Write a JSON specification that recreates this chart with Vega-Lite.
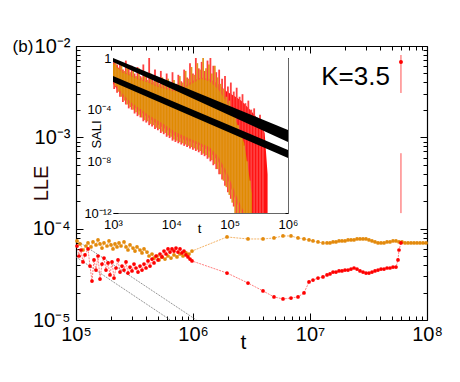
{
"$schema": "https://vega.github.io/schema/vega-lite/v6.json",
"width": 351, "height": 274,
"autosize": "none",
"padding": {"left": 76, "top": 46, "right": 33, "bottom": 62},
"background": "white",
"config": {"view": {"stroke": null}, "font": "Liberation Sans",
  "axis": {"grid": false, "labelFont": "Liberation Sans", "titleFont": "Liberation Sans", "labelOverlap": false, "labelFlush": false, "labelBound": false, "labelColor": "#000", "titleColor": "#000", "domainColor": "#000", "tickColor": "#000", "titleFontWeight": "normal"}},
"datasets": {
  "box": [{"t": 1e6, "v": 1e-4}],
  "guides": [{"g": "a", "t": 1e5, "v": 7.52e-5}, {"g": "a", "t": 1.07e6, "v": 1e-5}, {"g": "b", "t": 1e5, "v": 4.9e-5}, {"g": "b", "t": 6.4e5, "v": 1e-5}],
  "orange": [
    {"t":1.02e5,"v":7.33e-5},{"t":1.082e5,"v":6.80e-5},{"t":1.148e5,"v":5.84e-5},{"t":1.218e5,"v":6.46e-5},{"t":1.266e5,"v":6.97e-5},{"t":1.344e5,"v":6.30e-5},{"t":1.397e5,"v":7.15e-5},{"t":1.482e5,"v":6.63e-5},{"t":1.542e5,"v":7.52e-5},{"t":1.604e5,"v":6.80e-5},{"t":1.668e5,"v":6.14e-5},{"t":1.735e5,"v":6.97e-5},{"t":1.841e5,"v":6.46e-5},{"t":1.915e5,"v":7.33e-5},{"t":1.991e5,"v":6.63e-5},{"t":2.071e5,"v":5.99e-5},{"t":2.154e5,"v":6.80e-5},{"t":2.241e5,"v":6.30e-5},{"t":2.331e5,"v":6.97e-5},{"t":2.424e5,"v":6.46e-5},{"t":2.572e5,"v":7.15e-5},{"t":2.675e5,"v":6.30e-5},{"t":2.782e5,"v":5.84e-5},{"t":2.894e5,"v":6.63e-5},{"t":3.070e5,"v":6.14e-5},{"t":3.193e5,"v":5.69e-5},{"t":3.321e5,"v":6.30e-5},{"t":3.524e5,"v":5.84e-5},{"t":3.665e5,"v":5.42e-5},{"t":3.812e5,"v":5.99e-5},{"t":4.044e5,"v":5.55e-5},{"t":4.206e5,"v":5.02e-5},{"t":4.463e5,"v":5.28e-5},{"t":4.642e5,"v":4.77e-5},{"t":4.924e5,"v":5.02e-5},{"t":5.121e5,"v":4.54e-5},{"t":5.433e5,"v":4.90e-5},{"t":5.763e5,"v":4.65e-5},{"t":6.113e5,"v":5.02e-5},{"t":6.486e5,"v":4.77e-5},{"t":6.879e5,"v":5.15e-5},{"t":7.297e5,"v":4.90e-5},{"t":7.741e5,"v":5.28e-5},{"t":8.211e5,"v":5.02e-5},{"t":8.710e5,"v":5.42e-5},{"t":9.245e5,"v":5.28e-5},{"t":9.806e5,"v":5.69e-5},
    {"t":1.953e6,"v":8.11e-5},{"t":2.952e6,"v":7.71e-5},{"t":3.966e6,"v":7.71e-5},{"t":4.924e6,"v":7.91e-5},{"t":5.877e6,"v":8.32e-5},{"t":6.879e6,"v":8.32e-5},{"t":7.897e6,"v":7.91e-5},{"t":8.886e6,"v":7.71e-5},{"t":9.806e6,"v":7.52e-5},{"t":1.061e7,"v":7.33e-5},{"t":1.171e7,"v":7.15e-5},{"t":1.291e7,"v":6.97e-5},{"t":1.397e7,"v":6.97e-5},{"t":1.482e7,"v":6.97e-5},
    {"t":1.573e7,"v":7.15e-5},{"t":1.668e7,"v":7.15e-5},{"t":1.770e7,"v":7.33e-5},{"t":1.877e7,"v":7.33e-5},{"t":1.991e7,"v":7.33e-5},{"t":2.113e7,"v":7.52e-5},{"t":2.241e7,"v":7.52e-5},{"t":2.378e7,"v":7.52e-5},{"t":2.522e7,"v":7.71e-5},{"t":2.675e7,"v":7.71e-5},{"t":2.838e7,"v":7.71e-5},{"t":3.010e7,"v":7.71e-5},{"t":3.193e7,"v":7.52e-5},{"t":3.388e7,"v":7.33e-5},{"t":3.594e7,"v":7.15e-5},{"t":3.812e7,"v":6.97e-5},{"t":4.044e7,"v":6.97e-5},{"t":4.291e7,"v":6.97e-5},{"t":4.552e7,"v":7.15e-5},{"t":4.828e7,"v":7.15e-5},{"t":5.121e7,"v":7.33e-5},{"t":5.433e7,"v":7.33e-5},{"t":5.763e7,"v":7.15e-5},{"t":6.113e7,"v":7.15e-5},{"t":6.486e7,"v":6.97e-5},{"t":6.879e7,"v":6.97e-5},{"t":7.297e7,"v":6.97e-5},{"t":7.741e7,"v":6.97e-5},{"t":8.211e7,"v":6.97e-5},{"t":8.710e7,"v":6.97e-5},{"t":9.245e7,"v":6.97e-5},{"t":9.806e7,"v":6.97e-5}
  ],
  "red": [
    {"t":1.02e5,"v":6.46e-5},{"t":1.061e5,"v":5.02e-5},{"t":1.103e5,"v":5.84e-5},{"t":1.148e5,"v":4.32e-5},{"t":1.194e5,"v":5.15e-5},{"t":1.266e5,"v":5.99e-5},{"t":1.317e5,"v":3.90e-5},{"t":1.370e5,"v":2.67e-5},{"t":1.425e5,"v":4.54e-5},{"t":1.482e5,"v":3.52e-5},{"t":1.542e5,"v":5.02e-5},{"t":1.604e5,"v":2.81e-5},{"t":1.668e5,"v":4.10e-5},{"t":1.735e5,"v":4.77e-5},{"t":1.804e5,"v":3.52e-5},{"t":1.877e5,"v":4.21e-5},{"t":1.953e5,"v":3.11e-5},{"t":2.031e5,"v":4.32e-5},{"t":2.113e5,"v":2.88e-5},{"t":2.198e5,"v":3.71e-5},{"t":2.286e5,"v":4.54e-5},{"t":2.378e5,"v":3.35e-5},{"t":2.473e5,"v":3.90e-5},{"t":2.572e5,"v":3.52e-5},{"t":2.675e5,"v":4.32e-5},{"t":2.782e5,"v":3.27e-5},{"t":2.894e5,"v":3.80e-5},{"t":3.010e5,"v":3.44e-5},{"t":3.131e5,"v":4.10e-5},{"t":3.256e5,"v":3.71e-5},{"t":3.388e5,"v":3.35e-5},{"t":3.524e5,"v":3.90e-5},{"t":3.665e5,"v":3.52e-5},{"t":3.812e5,"v":4.10e-5},{"t":3.965e5,"v":3.71e-5},{"t":4.125e5,"v":4.43e-5},{"t":4.291e5,"v":3.90e-5},{"t":4.463e5,"v":4.65e-5},{"t":4.642e5,"v":4.21e-5},{"t":4.828e5,"v":5.02e-5},{"t":5.022e5,"v":4.54e-5},{"t":5.223e5,"v":5.28e-5},{"t":5.433e5,"v":4.90e-5},{"t":5.650e5,"v":5.69e-5},{"t":5.877e5,"v":5.28e-5},{"t":6.113e5,"v":5.99e-5},{"t":6.358e5,"v":5.55e-5},{"t":6.614e5,"v":5.99e-5},{"t":6.879e5,"v":5.69e-5},{"t":7.155e5,"v":6.14e-5},{"t":7.442e5,"v":5.55e-5},{"t":7.741e5,"v":5.99e-5},{"t":8.051e5,"v":5.42e-5},{"t":8.374e5,"v":5.69e-5},{"t":8.710e5,"v":5.15e-5},{"t":9.059e5,"v":4.90e-5},{"t":9.427e5,"v":4.65e-5},{"t":9.806e5,"v":4.43e-5},
    {"t":1.953e6,"v":3.27e-5},{"t":2.952e6,"v":2.54e-5},{"t":3.966e6,"v":2.08e-5},{"t":4.924e6,"v":1.79e-5},{"t":5.877e6,"v":1.70e-5},{"t":6.879e6,"v":1.74e-5},{"t":7.897e6,"v":1.79e-5},{"t":8.886e6,"v":1.98e-5},{"t":9.806e6,"v":2.61e-5},{"t":1.061e7,"v":2.74e-5},{"t":1.171e7,"v":2.88e-5},{"t":1.291e7,"v":2.96e-5},{"t":1.397e7,"v":3.11e-5},{"t":1.482e7,"v":3.19e-5},{"t":1.573e7,"v":3.35e-5},{"t":1.668e7,"v":3.35e-5},{"t":1.770e7,"v":3.44e-5},{"t":1.877e7,"v":3.44e-5},{"t":1.991e7,"v":3.52e-5},{"t":2.113e7,"v":3.52e-5},{"t":2.241e7,"v":3.61e-5},{"t":2.378e7,"v":3.71e-5},{"t":2.522e7,"v":3.61e-5},{"t":2.675e7,"v":3.44e-5},{"t":2.838e7,"v":3.35e-5},{"t":3.010e7,"v":3.27e-5},{"t":3.193e7,"v":3.27e-5},{"t":3.388e7,"v":3.35e-5},{"t":3.594e7,"v":3.44e-5},{"t":3.812e7,"v":3.52e-5},{"t":4.044e7,"v":3.61e-5},{"t":4.291e7,"v":3.61e-5},{"t":4.552e7,"v":3.71e-5},{"t":4.828e7,"v":3.71e-5},{"t":5.121e7,"v":3.80e-5},{"t":5.433e7,"v":3.80e-5},{"t":5.650e7,"v":4.54e-5},{"t":5.763e7,"v":5.84e-5},{"t":5.994e7,"v":6.97e-5}
  ],
  "redRules": [{"t": 5.99e7, "v": 3.06e-3, "v2": 7.97e-3}, {"t": 5.99e7, "v": 1.48e-4, "v2": 6.7e-4}],
  "redDot": [{"t": 5.99e7, "v": 6.7e-3}],
  "kText": [{"t": 2.45e7, "v": 4.52e-3, "label": "K=3.5"}],
  "bText": [{"t": 3.52e4, "v": 9.63e-3, "label": "(b)"}],
  "insetBox": [{"t": 1e3, "t2": 1e6, "s": 1e-12, "s2": 1}],
  "bands": [{"g": "u", "t": 1e3, "s": 0.49, "s2": 1}, {"g": "u", "t": 1e6, "s": 3.16e-7, "s2": 2.69e-6}, {"g": "l", "t": 1e3, "s": 0.0138, "s2": 0.0407}, {"g": "l", "t": 1e6, "s": 1.82e-8, "s2": 7.59e-8}],
  "redArea": [
    {"t":1000,"s":0.01,"s2":0.501},{"t":1413,"s":1.26e-3,"s2":0.1},{"t":1995,"s":2.51e-4,"s2":0.0501},{"t":2818,"s":7.94e-5,"s2":0.0251},{"t":3981,"s":2.51e-5,"s2":0.0158},{"t":5623,"s":7.94e-6,"s2":7.94e-3},{"t":7943,"s":3.16e-6,"s2":5.01e-3},{"t":11220,"s":1e-6,"s2":3.16e-3},{"t":15849,"s":5.01e-7,"s2":5.01e-3},{"t":22387,"s":3.16e-7,"s2":0.0158},{"t":31623,"s":1.58e-7,"s2":0.0316},{"t":44668,"s":6.31e-8,"s2":0.0251},{"t":63096,"s":1e-8,"s2":0.01},{"t":89125,"s":6.31e-10,"s2":2.51e-3},{"t":125893,"s":1e-11,"s2":1e-3},{"t":158489,"s":1e-12,"s2":5.01e-4},{"t":223872,"s":1e-12,"s2":1e-4},{"t":316228,"s":1e-12,"s2":1.58e-5},{"t":398107,"s":1e-12,"s2":1.58e-6},{"t":446684,"s":1e-12,"s2":1e-9}
  ],
  "orangeArea": [
    {"t":1000,"s":0.02,"s2":0.398},{"t":1413,"s":2e-3,"s2":0.0794},{"t":1995,"s":3.98e-4,"s2":0.0398},{"t":2818,"s":1.26e-4,"s2":0.02},{"t":3981,"s":3.98e-5,"s2":0.0126},{"t":5623,"s":1.58e-5,"s2":6.31e-3},{"t":7943,"s":6.31e-6,"s2":3.98e-3},{"t":11220,"s":2e-6,"s2":2.51e-3},{"t":15849,"s":1e-6,"s2":3.98e-3},{"t":22387,"s":5.01e-7,"s2":0.01},{"t":31623,"s":2.51e-7,"s2":0.0251},{"t":44668,"s":1.26e-7,"s2":0.0158},{"t":63096,"s":2.51e-8,"s2":3.98e-3},{"t":89125,"s":1.58e-9,"s2":3.98e-4},{"t":125893,"s":3.16e-11,"s2":1.58e-5},{"t":177828,"s":1e-12,"s2":2.51e-7},{"t":239883,"s":1e-12,"s2":3.16e-11}
  ],
  "redSpikes": [
    {"t":1047,"s":3.98e-3,"s2":0.794},{"t":1175,"s":2e-3,"s2":0.316},{"t":1318,"s":1e-3,"s2":0.501},{"t":1479,"s":3.98e-4,"s2":0.126},{"t":1660,"s":2.51e-4,"s2":0.631},{"t":1862,"s":1.26e-4,"s2":0.158},{"t":2089,"s":1e-4,"s2":0.251},{"t":2344,"s":5.01e-5,"s2":0.0631},{"t":2630,"s":3.16e-5,"s2":0.2},{"t":2951,"s":2.51e-5,"s2":0.0398},{"t":3311,"s":1.26e-5,"s2":0.316},{"t":3715,"s":1e-5,"s2":0.0501},{"t":4169,"s":6.31e-6,"s2":1},{"t":4677,"s":5.01e-6,"s2":0.0316},{"t":5248,"s":3.16e-6,"s2":0.126},{"t":5888,"s":2.51e-6,"s2":0.02},{"t":6607,"s":1.58e-6,"s2":0.1},{"t":7413,"s":1.26e-6,"s2":0.0126},{"t":8318,"s":7.94e-7,"s2":0.0631},{"t":9333,"s":6.31e-7,"s2":0.01},{"t":10471,"s":3.98e-7,"s2":0.0794},{"t":11749,"s":3.16e-7,"s2":6.31e-3},{"t":13183,"s":2.51e-7,"s2":0.0501},{"t":14791,"s":2e-7,"s2":0.0158},{"t":16596,"s":1.58e-7,"s2":0.126},{"t":18621,"s":1.26e-7,"s2":0.0316},{"t":20893,"s":1e-7,"s2":0.398},{"t":23442,"s":7.94e-8,"s2":0.0631},{"t":26303,"s":6.31e-8,"s2":1},{"t":29512,"s":5.01e-8,"s2":0.158},{"t":33113,"s":3.16e-8,"s2":0.501},{"t":37154,"s":2.51e-8,"s2":0.1},{"t":41687,"s":1.58e-8,"s2":0.631},{"t":46774,"s":1e-8,"s2":1},{"t":52481,"s":5.01e-9,"s2":0.251},{"t":58884,"s":2.51e-9,"s2":0.0794},{"t":66069,"s":1e-9,"s2":0.126},{"t":74131,"s":3.98e-10,"s2":0.0251},{"t":83176,"s":1.26e-10,"s2":0.0398},{"t":93325,"s":3.98e-11,"s2":6.31e-3},{"t":104713,"s":1.26e-11,"s2":0.0126},{"t":117490,"s":3.16e-12,"s2":2.51e-3},{"t":131826,"s":1e-12,"s2":5.01e-3},{"t":147911,"s":1e-12,"s2":1e-3},{"t":165959,"s":1e-12,"s2":1.58e-3},{"t":186209,"s":1e-12,"s2":3.16e-4},{"t":208930,"s":1e-12,"s2":5.01e-4},{"t":234423,"s":1e-12,"s2":1e-4},{"t":263027,"s":1e-12,"s2":1.26e-4},{"t":295121,"s":1e-12,"s2":2.51e-5},{"t":331131,"s":1e-12,"s2":3.98e-5},{"t":371535,"s":1e-12,"s2":6.31e-6}
  ],
  "orangeSpikes": [
    {"t":1109,"s":6.31e-3,"s2":0.501},{"t":1245,"s":2.51e-3,"s2":0.158},{"t":1396,"s":1e-3,"s2":0.398},{"t":1567,"s":5.01e-4,"s2":0.1},{"t":1758,"s":2.51e-4,"s2":0.251},{"t":1972,"s":1.58e-4,"s2":0.0794},{"t":2213,"s":1e-4,"s2":0.126},{"t":2483,"s":6.31e-5,"s2":0.0398},{"t":2786,"s":3.98e-5,"s2":0.158},{"t":3126,"s":2.51e-5,"s2":0.0316},{"t":3508,"s":1.58e-5,"s2":0.0794},{"t":3936,"s":1.26e-5,"s2":0.02},{"t":4416,"s":7.94e-6,"s2":0.0631},{"t":4955,"s":6.31e-6,"s2":0.0158},{"t":5559,"s":3.98e-6,"s2":0.0398},{"t":6237,"s":3.16e-6,"s2":0.01},{"t":6998,"s":2e-6,"s2":0.0316},{"t":7852,"s":1.58e-6,"s2":7.94e-3},{"t":8810,"s":1e-6,"s2":0.0251},{"t":9886,"s":7.94e-7,"s2":6.31e-3},{"t":11092,"s":5.01e-7,"s2":0.02},{"t":12445,"s":3.98e-7,"s2":0.01},{"t":13964,"s":3.16e-7,"s2":0.0398},{"t":15668,"s":2.51e-7,"s2":0.0126},{"t":17579,"s":2e-7,"s2":0.1},{"t":19724,"s":1.58e-7,"s2":0.0251},{"t":22131,"s":1.26e-7,"s2":0.2},{"t":24831,"s":1e-7,"s2":0.0501},{"t":27861,"s":7.94e-8,"s2":0.398},{"t":31261,"s":6.31e-8,"s2":0.126},{"t":35075,"s":3.98e-8,"s2":1},{"t":39355,"s":3.16e-8,"s2":0.158},{"t":44157,"s":2e-8,"s2":0.316},{"t":49545,"s":1.26e-8,"s2":0.0631},{"t":55590,"s":6.31e-9,"s2":0.251},{"t":62373,"s":2.51e-9,"s2":0.0316},{"t":69984,"s":1e-9,"s2":0.01},{"t":78524,"s":3.16e-10,"s2":3.98e-3},{"t":88105,"s":1e-10,"s2":1e-3},{"t":98855,"s":2.51e-11,"s2":5.01e-4},{"t":110917,"s":6.31e-12,"s2":1e-4},{"t":124451,"s":1e-12,"s2":3.16e-5},{"t":139637,"s":1e-12,"s2":6.31e-6},{"t":156675,"s":1e-12,"s2":1e-6},{"t":175792,"s":1e-12,"s2":1.58e-7},{"t":197242,"s":1e-12,"s2":1e-8},{"t":221309,"s":1e-12,"s2":3.16e-10}
  ]
},
"layer": [
  {
    "data": {"name": "box"},
    "mark": {"type": "point", "opacity": 0},
    "encoding": {
      "x": {"field": "t", "type": "quantitative", "scale": {"type": "log", "domain": [1e5, 1e8]},
        "axis": {"orient": "top", "labels": false, "title": null, "domainWidth": 1.2,
          "values": [1e5,2e5,3e5,4e5,5e5,6e5,7e5,8e5,9e5,1e6,2e6,3e6,4e6,5e6,6e6,7e6,8e6,9e6,1e7,2e7,3e7,4e7,5e7,6e7,7e7,8e7,9e7,1e8],
          "tickSize": {"condition": {"test": "datum.value==1e5||datum.value==1e6||datum.value==1e7||datum.value==1e8", "value": -7}, "value": -4}}},
      "y": {"field": "v", "type": "quantitative", "scale": {"type": "log", "domain": [1e-5, 1e-2]},
        "axis": {"orient": "right", "labels": false, "title": null, "domainWidth": 1.2,
          "values": [1e-5,2e-5,3e-5,4e-5,5e-5,6e-5,7e-5,8e-5,9e-5,1e-4,2e-4,3e-4,4e-4,5e-4,6e-4,7e-4,8e-4,9e-4,1e-3,2e-3,3e-3,4e-3,5e-3,6e-3,7e-3,8e-3,9e-3,1e-2],
          "tickSize": {"condition": {"test": "datum.value==1e-5||datum.value==1e-4||datum.value==1e-3||datum.value==1e-2", "value": -7}, "value": -4}}}
    }
  },
  {
    "data": {"name": "box"},
    "mark": {"type": "point", "opacity": 0},
    "encoding": {
      "x": {"field": "t", "type": "quantitative", "scale": {"type": "log", "domain": [1e5, 1e8]},
        "axis": {"orient": "bottom", "labels": false, "title": null, "domainWidth": 1.2,
          "values": [1e5,2e5,3e5,4e5,5e5,6e5,7e5,8e5,9e5,1e6,2e6,3e6,4e6,5e6,6e6,7e6,8e6,9e6,1e7,2e7,3e7,4e7,5e7,6e7,7e7,8e7,9e7,1e8],
          "tickSize": {"condition": {"test": "datum.value==1e5||datum.value==1e6||datum.value==1e7||datum.value==1e8", "value": -7}, "value": -4}}},
      "y": {"field": "v", "type": "quantitative", "scale": {"type": "log", "domain": [1e-5, 1e-2]},
        "axis": {"orient": "left", "labels": false, "title": null, "domainWidth": 1.2,
          "values": [1e-5,2e-5,3e-5,4e-5,5e-5,6e-5,7e-5,8e-5,9e-5,1e-4,2e-4,3e-4,4e-4,5e-4,6e-4,7e-4,8e-4,9e-4,1e-3,2e-3,3e-3,4e-3,5e-3,6e-3,7e-3,8e-3,9e-3,1e-2],
          "tickSize": {"condition": {"test": "datum.value==1e-5||datum.value==1e-4||datum.value==1e-3||datum.value==1e-2", "value": -7}, "value": -4}}}
    }
  },
  {
    "encoding": {
      "x": {"field": "t", "type": "quantitative", "scale": {"type": "log", "domain": [1e5, 1e8]},
        "axis": {"orient": "bottom", "domain": false, "ticks": false,
          "values": [1e5,1e6,1e7,1e8],
          "labelExpr": "datum.value==1e5 ? '10⁵' : datum.value==1e6 ? '10⁶' : datum.value==1e7 ? '10⁷' : '10⁸'",
          "labelFontSize": 20, "labelPadding": 4, "labelAlign": "center", "labelBaseline": "top",
          "title": "t", "titleFontSize": 21, "titleX": 167, "titleY": 28, "titleBaseline": "alphabetic", "titleAlign": "center"}},
      "y": {"field": "v", "type": "quantitative", "scale": {"type": "log", "domain": [1e-5, 1e-2]},
        "axis": {"orient": "left", "domain": false, "ticks": false,
          "values": [1e-5,1e-4,1e-3,1e-2],
          "labelExpr": "datum.value==1e-5 ? '10⁻⁵' : datum.value==1e-4 ? '10⁻⁴' : datum.value==1e-3 ? '10⁻³' : '10⁻²'",
          "labelFontSize": 20, "labelPadding": 6, "labelAlign": "right", "labelBaseline": "middle",
          "title": "LLE", "titleFontSize": 20, "titleColor": "#2b0808", "titleX": -35, "titleY": 137, "titleAngle": -90, "titleAlign": "center", "titleBaseline": "middle"}}
    },
    "layer": [
      {"data": {"name": "guides"}, "mark": {"type": "line", "color": "#777", "strokeWidth": 1, "strokeDash": [1, 1], "clip": true}, "encoding": {"detail": {"field": "g"}}},
      {"data": {"name": "orange"}, "mark": {"type": "line", "color": "#F0A040", "strokeWidth": 0.8, "strokeDash": [2, 1]}},
      {"data": {"name": "red"}, "mark": {"type": "line", "color": "#FF6060", "strokeWidth": 0.8, "strokeDash": [2, 1]}},
      {"data": {"name": "orange"}, "mark": {"type": "circle", "color": "#E38A0C", "size": 14, "opacity": 1}},
      {"data": {"name": "red"}, "mark": {"type": "circle", "color": "#FF0000", "size": 14, "opacity": 1}},
      {"data": {"name": "redRules"}, "mark": {"type": "rule", "color": "#FF5050", "strokeWidth": 1}, "encoding": {"y2": {"field": "v2"}}},
      {"data": {"name": "redDot"}, "mark": {"type": "circle", "color": "#FF0000", "size": 16, "opacity": 1}},
      {"data": {"name": "kText"}, "mark": {"type": "text", "fontSize": 26, "color": "#000", "align": "center", "baseline": "middle"}, "encoding": {"text": {"field": "label"}}},
      {"data": {"name": "bText"}, "mark": {"type": "text", "fontSize": 17, "color": "#000", "align": "center", "baseline": "middle"}, "encoding": {"text": {"field": "label"}}}
    ]
  },
  {
    "encoding": {
      "x": {"field": "t", "type": "quantitative", "scale": {"type": "log", "domain": [1e3, 1e6], "range": [37, 212]},
        "axis": {"orient": "bottom", "offset": -107, "domain": false, "ticks": false,
          "values": [1e3,1e4,1e5,1e6],
          "labelExpr": "datum.value==1e3 ? '10³' : datum.value==1e4 ? '10⁴' : datum.value==1e5 ? '10⁵' : '10⁶'",
          "labelFontSize": 13, "labelPadding": 5, "labelAlign": "center", "labelBaseline": "top",
          "title": "t", "titleFontSize": 13, "titleX": 123, "titleY": 19, "titleBaseline": "alphabetic", "titleAlign": "center"}},
      "y": {"field": "s", "type": "quantitative", "scale": {"type": "log", "domain": [1e-12, 1], "range": [167, 12]},
        "axis": {"orient": "left", "offset": -37, "domain": false, "ticks": false,
          "values": [1,1e-4,1e-8,1e-12],
          "labelExpr": "datum.value==1 ? '1' : datum.value==1e-4 ? '10⁻⁴' : datum.value==1e-8 ? '10⁻⁸' : '10⁻¹²'",
          "labelFontSize": 13, "labelPadding": 2, "labelAlign": "right", "labelBaseline": "middle",
          "title": "SALI", "titleFontSize": 13, "titleX": -17, "titleY": 88, "titleAngle": -90, "titleAlign": "center", "titleBaseline": "middle"}}
    },
    "layer": [
      {"data": {"name": "insetBox"}, "mark": {"type": "rect", "fill": "white"}, "encoding": {"x2": {"field": "t2"}, "y2": {"field": "s2"}}},
      {"data": {"name": "redArea"}, "mark": {"type": "area", "color": "#FF1010", "opacity": 1}, "encoding": {"y2": {"field": "s2"}}},
      {"data": {"name": "redSpikes"}, "mark": {"type": "rule", "color": "#FF4040", "strokeWidth": 1.8}, "encoding": {"y2": {"field": "s2"}}},
      {"data": {"name": "orangeArea"}, "mark": {"type": "area", "color": "#E08A00", "opacity": 1}, "encoding": {"y2": {"field": "s2"}}},
      {"data": {"name": "orangeSpikes"}, "mark": {"type": "rule", "color": "#E39320", "strokeWidth": 1.8}, "encoding": {"y2": {"field": "s2"}}},
      {"data": {"name": "bands"}, "mark": {"type": "area", "color": "#000", "opacity": 1}, "encoding": {"y2": {"field": "s2"}, "detail": {"field": "g"}}}
    ]
  },
  {
    "data": {"name": "insetBox"},
    "mark": {"type": "point", "opacity": 0},
    "encoding": {
      "x": {"field": "t", "type": "quantitative", "scale": {"type": "log", "domain": [1e3, 1e6], "range": [37, 212]},
        "axis": {"orient": "top", "offset": -12, "labels": false, "title": null, "domainColor": "#666",
          "values": [1e3,2e3,3e3,4e3,5e3,6e3,7e3,8e3,9e3,1e4,2e4,3e4,4e4,5e4,6e4,7e4,8e4,9e4,1e5,2e5,3e5,4e5,5e5,6e5,7e5,8e5,9e5,1e6],
          "tickSize": {"condition": {"test": "datum.value==1e3||datum.value==1e4||datum.value==1e5||datum.value==1e6", "value": -5}, "value": -3}}},
      "y": {"field": "s", "type": "quantitative", "scale": {"type": "log", "domain": [1e-12, 1], "range": [167, 12]},
        "axis": {"orient": "right", "offset": -139, "labels": false, "title": null, "domainColor": "#666",
          "values": [1,0.1,0.01,1e-3,1e-4,1e-5,1e-6,1e-7,1e-8,1e-9,1e-10,1e-11,1e-12],
          "tickSize": -3}}
    }
  },
  {
    "data": {"name": "insetBox"},
    "mark": {"type": "point", "opacity": 0},
    "encoding": {
      "x": {"field": "t", "type": "quantitative", "scale": {"type": "log", "domain": [1e3, 1e6], "range": [37, 212]},
        "axis": {"orient": "bottom", "offset": -107, "labels": false, "title": null, "domainColor": "#666",
          "values": [1e3,2e3,3e3,4e3,5e3,6e3,7e3,8e3,9e3,1e4,2e4,3e4,4e4,5e4,6e4,7e4,8e4,9e4,1e5,2e5,3e5,4e5,5e5,6e5,7e5,8e5,9e5,1e6],
          "tickSize": {"condition": {"test": "datum.value==1e3||datum.value==1e4||datum.value==1e5||datum.value==1e6", "value": -5}, "value": -3}}},
      "y": {"field": "s", "type": "quantitative", "scale": {"type": "log", "domain": [1e-12, 1], "range": [167, 12]},
        "axis": {"orient": "left", "offset": -37, "labels": false, "title": null, "domainColor": "#666",
          "values": [1,0.1,0.01,1e-3,1e-4,1e-5,1e-6,1e-7,1e-8,1e-9,1e-10,1e-11,1e-12],
          "tickSize": {"condition": {"test": "datum.value==1||datum.value==1e-4||datum.value==1e-8||datum.value==1e-12", "value": -5}, "value": -3}}}
    }
  }
],
"resolve": {"scale": {"x": "independent", "y": "independent"}}
}
